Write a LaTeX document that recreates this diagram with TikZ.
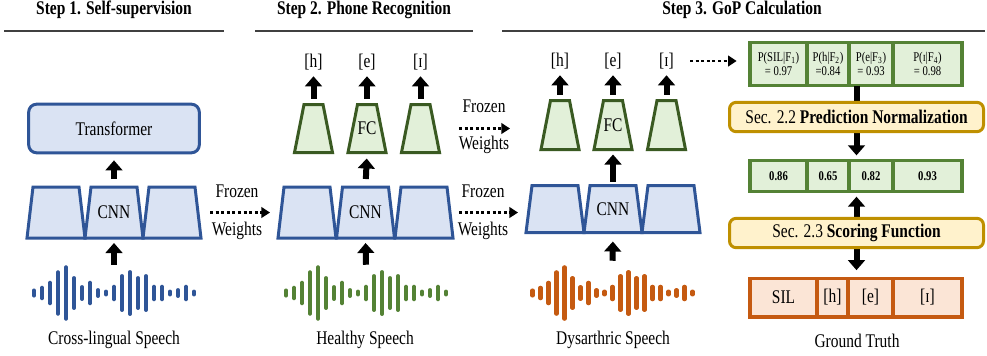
\documentclass[tikz,border=0pt]{standalone}
\usepackage{fontspec}
\setmainfont{Liberation Serif}[FakeStretch=0.8]
\usetikzlibrary{arrows.meta,positioning}

\definecolor{cnnblue}{HTML}{2F5597}
\definecolor{cnnfill}{HTML}{DAE3F3}
\definecolor{fcgreen}{HTML}{3A5A22}
\definecolor{fcfill}{HTML}{E2F0D9}
\definecolor{tabgreen}{HTML}{548235}
\definecolor{secgold}{HTML}{BF9000}
\definecolor{secfill}{HTML}{FFF2CC}
\definecolor{gtorange}{HTML}{C55A11}
\definecolor{gtfill}{HTML}{FBE5D6}

% style, name, x, y, half bottom, half top, half height, text
\newcommand{\trapnode}[8]{%
  \filldraw[#1] (#3-#5,#4+#7) -- (#3-#6,#4-#7) -- (#3+#6,#4-#7) -- (#3+#5,#4+#7) -- cycle;
  \node[minimum width=#5*1.5pt,minimum height=#7*1.5pt,outer sep=0pt] (#2) at (#3,#4) {#8};}

\tikzset{
  cnn/.style={draw=cnnblue, fill=cnnfill, line width=2.25pt},
  fc/.style={draw=fcgreen, fill=fcfill, line width=2.25pt},
  trans/.style={rectangle, rounded corners=6pt, draw=cnnblue, fill=cnnfill,
    line width=2.25pt, minimum width=128pt, minimum height=36.5pt},
  prob/.style={rectangle, draw=tabgreen, fill=fcfill, line width=2.5pt,
    minimum height=32.5pt, outer sep=0pt, align=center,
    font=\fontsize{10pt}{10.5pt}\selectfont},
  score/.style={prob, minimum height=23.5pt,
    font=\fontsize{10pt}{12pt}\selectfont\bfseries},
  truth/.style={rectangle, draw=gtorange, fill=gtfill, line width=2.5pt,
    minimum height=29pt, outer sep=0pt},
  sec/.style={rectangle, rounded corners=5pt, draw=secgold, fill=secfill,
    line width=2.25pt, minimum width=190.5pt, minimum height=22pt},
  blk/.style={-{Triangle[width=12.5pt,length=7.5pt]}, line width=4.5pt},
  dots/.style={-{Triangle[width=8pt,length=6.5pt]}, line width=2.2pt,
    dash pattern=on 2.2pt off 2pt},
  title/.style={font=\fontsize{14.5pt}{17pt}\selectfont\bfseries},
  wavebox/.style={minimum width=127.5pt, minimum height=42pt}
}

\begin{document}
\begin{tikzpicture}
  [x=0.75pt,y=-0.75pt,every node/.style={font=\fontsize{14.5pt}{17pt}\selectfont,inner sep=0pt}]
  \useasboundingbox (0,0) rectangle (987,355);

  % titles
  \node[title] (t1) at (114,10) {Step 1. Self-supervision};
  \node[title] (t2) at (364,10) {Step 2. Phone Recognition};
  \node[title] (t3) at (742,10) {Step 3. GoP Calculation};
  \draw[line width=1.1pt,black!75] (4,31) -- (224,31);
  \draw[line width=1.1pt,black!75] (255,31) -- (473,31);
  \draw[line width=1.1pt,black!75] (502,31) -- (985,31);

  % step 1
  \node[trans] (tr) at (114,128.5) {Transformer};
  \trapnode{cnn}{c11}{56}{212.5}{29}{23}{25.5}{}
  \trapnode{cnn}{c12}{114}{212.5}{29}{23}{25.5}{CNN}
  \trapnode{cnn}{c13}{172}{212.5}{29}{23}{25.5}{}

  % step 2
  \trapnode{cnn}{c21}{307}{212.5}{29}{23}{25.5}{}
  \trapnode{cnn}{c22}{365.5}{212.5}{29}{23}{25.5}{CNN}
  \trapnode{cnn}{c23}{424}{212.5}{29}{23}{25.5}{}
  \trapnode{fc}{f21}{313.5}{128.5}{19}{9.5}{24}{}
  \trapnode{fc}{f22}{367}{128.5}{19}{9.5}{24}{FC}
  \trapnode{fc}{f23}{420.5}{128.5}{19}{9.5}{24}{}
  \node (l21) at (313.5,62) {[h]};
  \node (l22) at (367,62) {[e]};
  \node (l23) at (420.5,62) {[ɪ]};

  % step 3
  \trapnode{cnn}{c31}{555}{209}{29}{23}{23.5}{}
  \trapnode{cnn}{c32}{613}{209}{29}{23}{23.5}{CNN}
  \trapnode{cnn}{c33}{671}{209}{29}{23}{23.5}{}
  \trapnode{fc}{f31}{560}{125}{19}{9.5}{24.5}{}
  \trapnode{fc}{f32}{613}{125}{19}{9.5}{24.5}{FC}
  \trapnode{fc}{f33}{666.5}{125}{19}{9.5}{24.5}{}
  \node (l31) at (560,61) {[h]};
  \node (l32) at (613,61) {[e]};
  \node (l33) at (666.5,61) {[ɪ]};

  % waveforms
  \foreach \wx/\wc/\wn in {114/cnnblue/w1,366/tabgreen/w2,612.5/gtorange/w3}{
    \node[wavebox] (\wn) at (\wx,293) {};
    \foreach \h [count=\i] in {2.5,5.2,10.2,20.7,25.7,14.9,5.9,10.2,2.9,1.4,6.2,
                               16.9,20.9,14.9,16.9,6.2,6.2,1.4,2.9,6.2,1.4}
      \draw[\wc,line width=3.1pt,line cap=round]
        (\wx-88+8*\i,293-\h) -- (\wx-88+8*\i,293+\h);
  }
  \node (s1) at (114,340) {Cross-lingual Speech};
  \node (s2) at (365,340) {Healthy Speech};
  \node (s3) at (613,340) {Dysarthric Speech};

  % frozen weights
  \node (fz1) at (237,191) {Frozen};
  \node (wt1) at (237,231) {Weights};
  \node (fz2) at (484,106) {Frozen};
  \node (wt2) at (484,145) {Weights};
  \node (fz3) at (483,191) {Frozen};
  \node (wt3) at (483,231) {Weights};
  \draw[dots,shorten <=6.75pt,shorten >=6pt] (c13.east) -- (c13.east -| c21.west);
  \draw[dots,shorten <=14.6pt,shorten >=23.25pt] (f23.east) -- (f23.east -| f31.west);
  \draw[dots,shorten <=4.5pt,shorten >=6pt] (c23.east) -- (c23.east -| c31.west);

  % block arrows
  \draw[blk,shorten >=3.75pt] (w1.north) -- (c12.south);
  \draw[blk,shorten <=6pt,shorten >=4.5pt] (c12.north) -- (tr.south);
  \draw[blk,shorten >=3.75pt] (w2.north) -- (c22.south);
  \draw[blk,shorten <=6pt,shorten >=4.5pt] (c22.north) -- (f22.south);
  \draw[blk,shorten <=3pt,shorten >=6.75pt] (w3.north) -- (c32.south);
  \draw[blk,shorten <=3pt,shorten >=3.75pt] (c32.north) -- (f32.south);
  \foreach \s in {21,22,23,31,32,33}
    \draw[blk,shorten <=4.5pt,shorten >=4.5pt] (f\s.north) -- (l\s.south);

  % probability table
  \node[prob,minimum width=42.75pt] (p1) at (778.5,64) {P(SIL|F\textsubscript{1})\\= 0.97};
  \node[prob,minimum width=31.5pt,right=0pt of p1] (p2) {P(h|F\textsubscript{2})\\=0.84};
  \node[prob,minimum width=33pt,right=0pt of p2] (p3) {P(e|F\textsubscript{3})\\= 0.93};
  \node[prob,minimum width=51.75pt,right=0pt of p3] (p4) {P(ɪ|F\textsubscript{4})\\= 0.98};
  \draw[dots,shorten <=12pt,shorten >=10pt] (l33.east) -- (l33.east -| p1.west);

  % scores
  \node[score,minimum width=42.75pt] (q1) at (778.5,176) {0.86};
  \node[score,minimum width=31.5pt,right=0pt of q1] (q2) {0.65};
  \node[score,minimum width=33pt,right=0pt of q2] (q3) {0.82};
  \node[score,minimum width=51.75pt,right=0pt of q3] (q4) {0.93};

  % ground truth
  \node[truth,minimum width=50.25pt] (g1) at (783.5,297.5) {SIL};
  \node[truth,minimum width=23.25pt,right=0pt of g1] (g2) {[h]};
  \node[truth,minimum width=33.75pt,right=0pt of g2] (g3) {[e]};
  \node[truth,minimum width=51.75pt,right=0pt of g3] (g4) {[ɪ]};
  \node (gt) at (857,341) {Ground Truth};

  % sections
  \coordinate (mid) at (856.5,0);
  \draw[blk,shorten >=3.75pt] (mid |- p3.south) -- (mid |- q3.north);
  \draw[blk,{Triangle[width=12.5pt,length=7.5pt]}-{Triangle[width=12.5pt,length=7.5pt]},
    shorten <=3.75pt,shorten >=6pt] (mid |- q3.south) -- (mid |- g3.north);
  \node[sec] (n22) at (856.5,117) {Sec. 2.2 \textbf{Prediction Normalization}};
  \node[sec] (n23) at (856.5,233) {Sec. 2.3 \textbf{Scoring Function}};
\end{tikzpicture}
\end{document}
